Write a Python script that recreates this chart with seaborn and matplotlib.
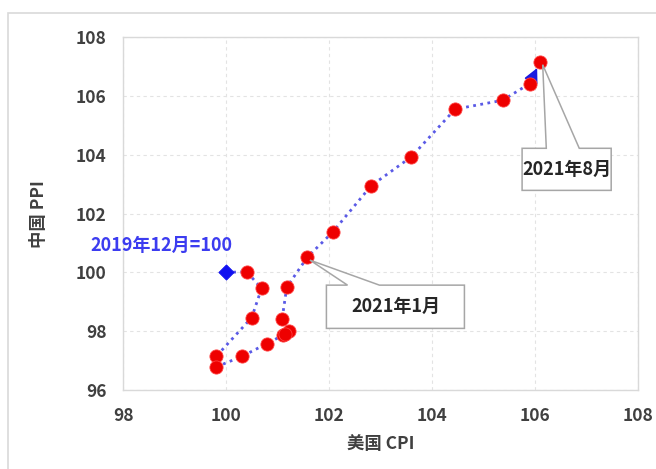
import seaborn as sns
import matplotlib.pyplot as plt
import pandas as pd
from matplotlib.patches import Polygon, Rectangle

# --------------------------------------------------
# Data: 2019-12 = 100, US CPI vs China PPI
# --------------------------------------------------
months = ["2019-12", "2020-01", "2020-02", "2020-03", "2020-04", "2020-05",
          "2020-06", "2020-07", "2020-08", "2020-09", "2020-10", "2020-11",
          "2020-12", "2021-01", "2021-02", "2021-03", "2021-04", "2021-05",
          "2021-06", "2021-07", "2021-08"]
us_cpi = [100.0, 100.40, 100.69, 100.50, 99.81, 99.81, 100.31, 100.79,
          101.10, 101.22, 101.15, 101.09, 101.18, 101.58, 102.07, 102.82,
          103.60, 104.45, 105.37, 105.90, 106.10]
cn_ppi = [100.0, 100.03, 99.46, 98.47, 97.15, 96.79, 97.15, 97.58,
          97.86, 98.00, 97.92, 98.43, 99.50, 100.52, 101.37, 102.95,
          103.93, 105.55, 105.85, 106.42, 107.16]
ticks = [96, 98, 100, 102, 104, 106, 108]
xticks = [98, 100, 102, 104, 106, 108]

df = pd.DataFrame({"month": months, "cpi": us_cpi, "ppi": cn_ppi})

sns.set_theme(style="white")
plt.rcParams["font.family"] = ["Noto Sans CJK SC", "DejaVu Sans"]

fig = plt.figure(figsize=(6.56, 4.69), dpi=100)
ax = fig.add_axes([0.1875, 0.168, 0.785, 0.753])

# outer frame of the chart
fig.patches.append(Rectangle((0.012, -0.01), 1.0, 0.982, transform=fig.transFigure,
                             fill=False, edgecolor="#d9d9d9", lw=1.2))

blue = "#3c3cf0"

# dotted path
sns.lineplot(data=df, x="cpi", y="ppi", sort=False, estimator=None, ax=ax,
             color="#5a5ae6", lw=2, linestyle=(0, (1, 1.6)), zorder=2)

# arrowhead on the last segment
ax.annotate("", xy=(us_cpi[-1], cn_ppi[-1]), xytext=(us_cpi[-2], cn_ppi[-2]),
            arrowprops=dict(arrowstyle="-|>", color="#1a1ae0", lw=1.2,
                            shrinkA=2, shrinkB=5, mutation_scale=22), zorder=3)

# red points
sns.scatterplot(data=df.iloc[1:], x="cpi", y="ppi", ax=ax, color="#ee0000",
                s=90, edgecolor="#ff4040", linewidth=0.6, zorder=4)
# base point
sns.scatterplot(data=df.iloc[:1], x="cpi", y="ppi", ax=ax, color="#1010f0",
                marker="D", s=60, edgecolor="#1010f0", zorder=5)

ax.set_xlim(98, 108)
ax.set_ylim(96, 108)
ax.set_xticks(xticks)
ax.set_yticks(ticks)
ax.grid(True, color="#e3e3e3", linestyle=(0, (3, 3)), lw=0.8)
for s in ax.spines.values():
    s.set_color("#d9d9d9")
    s.set_linewidth(1)
ax.tick_params(length=0, pad=12, labelsize=12.5, labelcolor="#404040")
for lab in ax.get_xticklabels() + ax.get_yticklabels():
    lab.set_fontweight("bold")
ax.set_xlabel("美国 CPI", fontsize=12.5, fontweight="bold", color="#404040", labelpad=7)
ax.set_ylabel("中国 PPI", fontsize=12.5, fontweight="bold", color="#404040", labelpad=20)

ax.text(98.74, 100.92, "2019年12月=100", color=blue, fontsize=13, fontweight="bold",
        ha="center", va="center", clip_on=False)


def callout(ax, apex, x0, x1, ytop, ybot, w0, w1, label):
    pts = [(x0, ytop), (w0, ytop), apex, (w1, ytop), (x1, ytop), (x1, ybot), (x0, ybot)]
    ax.add_patch(Polygon(pts, closed=True, facecolor="white", edgecolor="#a6a6a6",
                         lw=1.1, zorder=6, clip_on=False))
    ax.text((x0 + x1) / 2, (ytop + ybot) / 2, label, ha="center", va="center",
            fontsize=13, fontweight="bold", color="#262626", zorder=7)


callout(ax, (us_cpi[-1] + 0.05, cn_ppi[-1] - 0.1), 105.75, 107.48, 104.22, 102.79,
        106.22, 106.86, "2021年8月")
callout(ax, (us_cpi[13] + 0.05, cn_ppi[13] - 0.1), 101.95, 104.63, 99.57, 98.10,
        102.36, 102.98, "2021年1月")

fig.savefig("out.png", dpi=100)
